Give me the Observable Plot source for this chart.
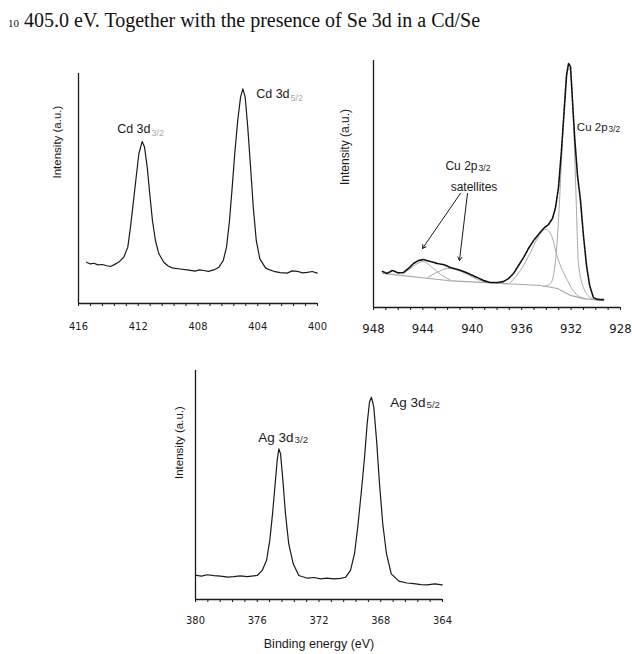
<!DOCTYPE html>
<html>
<head>
<meta charset="utf-8">
<script src="https://cdn.jsdelivr.net/npm/d3@7"></script>
<script src="https://cdn.jsdelivr.net/npm/@observablehq/plot@0.6"></script>
<style>
  html, body { margin: 0; padding: 0; background: #fff; }
  #page { position: relative; width: 632px; height: 654px; overflow: hidden; }
  .panel { position: absolute; }
  #header { position: absolute; left: 8px; top: 9px; font-family: "Liberation Serif", "Times New Roman", serif; font-size: 20px; line-height: 22px; color: #111; white-space: nowrap; }
  #header .ln { font-size: 11px; margin-right: 5px; }
</style>
</head>
<body>
<div id="page">
  <div id="header"><span class="ln">10</span>405.0 eV. Together with the presence of Se 3d in a Cd/Se</div>
  <div class="panel" id="p1" style="left:30px; top:60px;"></div>
  <div class="panel" id="p2" style="left:330px; top:45px;"></div>
  <div class="panel" id="p3" style="left:160px; top:355px;"></div>
</div>
<script>
// ---------------- Data ----------------
// Panel 1: Cd 3d
const cdEnergy = [415.46, 415.2, 414.97, 414.7, 414.41, 414.1, 413.86, 413.6, 413.3, 412.97, 412.7, 412.52, 412.34, 412.14, 411.96, 411.74, 411.58, 411.4, 411.23, 411.05, 410.85, 410.62, 410.29, 410.0, 409.73, 409.2, 408.72, 408.2, 407.9, 407.61, 407.3, 406.94, 406.6, 406.31, 406.09, 405.89, 405.71, 405.54, 405.34, 405.15, 405.0, 404.84, 404.67, 404.48, 404.3, 404.1, 403.86, 403.48, 403.2, 402.92, 402.5, 402.03, 401.7, 401.36, 401.0, 400.69, 400.35, 400.02];
const cdIntensity = [17.96, 17.2, 17.5, 16.8, 16.96, 16.4, 16.1, 16.9, 18.0, 20.1, 24.5, 33.2, 43.3, 54.9, 65.1, 70.4, 68.0, 59.3, 47.7, 36.1, 27.4, 21.6, 17.96, 16.3, 15.5, 15.0, 14.6, 14.1, 14.6, 14.35, 14.0, 14.6, 15.8, 18.7, 24.5, 36.1, 50.6, 65.1, 79.6, 89.7, 93.3, 89.7, 76.7, 59.3, 41.9, 27.4, 19.4, 15.5, 14.6, 14.0, 13.4, 13.2, 14.2, 14.0, 13.3, 13.5, 13.9, 13.2];

// Panel 2: Cu 2p3/2 (measured spectrum + fitted components)
const cuEnergy = [947.27, 946.9, 946.46, 946.0, 945.57, 945.17, 944.76, 944.36, 943.95, 943.38, 942.82, 942.33, 941.77, 941.2, 940.71, 940.15, 939.58, 939.09, 938.53, 937.96, 937.47, 937.07, 936.66, 936.26, 935.85, 935.45, 935.04, 934.64, 934.23, 933.83, 933.51, 933.26, 933.02, 932.78, 932.53, 932.37, 932.21, 932.05, 931.89, 931.7, 931.48, 931.24, 931.0, 930.75, 930.5, 930.19, 929.9, 929.62, 929.38];
const cuIntensity = [14.6, 13.8, 15.0, 14.0, 14.2, 15.8, 17.8, 19.0, 19.4, 18.6, 17.8, 17.4, 16.2, 15.4, 14.6, 13.4, 12.1, 10.9, 10.1, 10.1, 10.5, 11.7, 13.8, 17.0, 20.2, 23.9, 27.1, 29.6, 32.0, 33.6, 36.0, 40.5, 48.6, 63.6, 81.8, 93.9, 98.8, 97.6, 83.8, 68.0, 53.4, 43.3, 29.1, 17.0, 8.9, 4.0, 3.4, 3.2, 3.2];
const cuBgEnergy = [947.27, 942.0, 934.48, 933.1, 932.05, 931.0, 929.38];
const cuBgIntensity = [13.8, 10.9, 8.9, 7.7, 4.9, 3.6, 2.8];
const cuSat1Energy = [945.6, 944.8, 944.0, 943.2, 942.4, 941.8];
const cuSat1Intensity = [13.6, 16.6, 18.6, 16.0, 12.8, 11.2];
const cuSat2Energy = [943.6, 942.8, 942.0, 941.2, 940.4, 939.6, 938.8];
const cuSat2Intensity = [12.2, 14.4, 15.8, 15.2, 13.4, 11.4, 10.2];
const cuShEnergy = [936.91, 936.1, 935.29, 934.64, 934.07, 933.59, 933.1, 932.7, 932.29, 931.89, 931.48, 930.83];
const cuShIntensity = [10.1, 15.0, 22.3, 28.7, 31.6, 29.1, 20.2, 15.0, 10.9, 7.3, 4.9, 3.6];
const cuMainEnergy = [934.23, 933.67, 933.43, 933.26, 933.02, 932.78, 932.53, 932.29, 932.13, 931.97, 931.81, 931.64, 931.4, 931.0, 930.43, 929.78];
const cuMainIntensity = [8.5, 9.7, 13.0, 19.0, 35.2, 59.5, 83.8, 96.0, 96.8, 91.9, 75.7, 51.4, 17.8, 8.1, 4.0, 2.8];

// Panel 3: Ag 3d
const agEnergy = [379.94, 379.6, 379.24, 378.8, 378.38, 377.9, 377.52, 377.1, 376.65, 376.0, 375.68, 375.4, 375.19, 375.01, 374.84, 374.71, 374.6, 374.49, 374.34, 374.17, 373.96, 373.67, 373.31, 372.76, 372.3, 371.9, 371.5, 371.04, 370.6, 370.28, 369.96, 369.7, 369.49, 369.27, 369.05, 368.88, 368.73, 368.6, 368.45, 368.27, 368.08, 367.87, 367.63, 367.32, 366.83, 366.3, 365.86, 365.4, 364.99, 364.5, 364.02];
const agIntensity = [10.5, 10.2, 10.8, 10.4, 10.2, 9.8, 10.0, 10.3, 10.0, 10.5, 12.7, 17.0, 25.8, 37.4, 50.5, 60.7, 65.8, 63.6, 52.0, 37.4, 24.3, 15.6, 10.5, 9.3, 9.6, 9.0, 9.3, 9.0, 9.2, 9.7, 12.7, 20.0, 31.6, 46.2, 62.1, 76.7, 86.2, 88.3, 84.0, 69.4, 50.5, 33.1, 20.0, 11.2, 8.0, 7.2, 6.9, 6.5, 6.4, 6.8, 6.4];

// Tick labels
const cdTicks = [416, 412, 408, 404, 400];
const cuTicks = [948, 944, 940, 936, 932, 928];
const agTicks = [380, 376, 372, 368, 364];

const yLabel = "Intensity (a.u.)";
const xTitle = "Binding energy (eV)";

// ---------------- Helpers ----------------
const zip = (E, I) => E.map((e, i) => ({E: e, I: I[i]}));
const minorTicks = (lo, step, n) => d3.range(0, n + 1).map(i => +(lo + i * step).toFixed(3));
const SANS = "'Liberation Sans', Arial, sans-serif";
const NARROW = "'Liberation Sans Narrow', 'DejaVu Sans Condensed', 'Arial Narrow', sans-serif";
const INK = "#1a1a1a";

function frameMarks(x0, ticks, minor, labelSize, pad, ls) {
  return [
    Plot.ruleY([0], {stroke: INK, strokeWidth: 1.3}),
    Plot.ruleX([x0], {stroke: INK, strokeWidth: 1.3}),
    Plot.axisX({ticks: minor, tickSize: 3, tickFormat: () => "", stroke: INK, label: null}),
    Plot.axisX({ticks, tickSize: 0, tickPadding: pad, fontSize: labelSize, fontFamily: NARROW, fill: INK, label: null, tickFormat: d => String(d), style: {letterSpacing: ls}})
  ];
}

function subLabel(x, y, main, sub, size, subColor, subDy, ls = "0px") {
  return [
    Plot.text([main], {x: () => x, y: () => y, text: d => d, textAnchor: "end", fontSize: size, fontFamily: SANS, fill: INK, style: {letterSpacing: ls}}),
    Plot.text([sub], {x: () => x, y: () => y, text: d => d, textAnchor: "start", fontSize: size * 0.72, fontFamily: SANS, fill: subColor, dx: 1, dy: subDy})
  ];
}

// ---------------- Panel 1: Cd 3d ----------------
const p1 = Plot.plot({
  width: 300, height: 280,
  marginLeft: 48, marginRight: 13, marginTop: 13, marginBottom: 37,
  x: {domain: [416, 400]},
  y: {domain: [0, 100], axis: null},
  style: {fontFamily: SANS, background: "transparent", overflow: "visible"},
  marks: [
    ...frameMarks(416, cdTicks, minorTicks(400, 0.8, 20), 11, 19, "1px"),
    Plot.line(zip(cdEnergy, cdIntensity), {x: "E", y: "I", stroke: INK, strokeWidth: 1.2}),
    Plot.text([yLabel], {frameAnchor: "left", rotate: -90, dx: -21, dy: -10, fontSize: 11.5, fontFamily: SANS, fill: INK, text: d => d, style: {letterSpacing: "1px"}}),
    ...subLabel(411.18, 76, "Cd 3d", "3/2", 12.5, "#aaa", 4),
    ...subLabel(401.87, 90.9, "Cd 3d", "5/2", 12.5, "#aaa", 4)
  ]
});
document.getElementById("p1").appendChild(p1);

// ---------------- Panel 2: Cu 2p ----------------
const GRAY = "#a8a8a8";
const p2 = Plot.plot({
  width: 302, height: 290,
  marginLeft: 43, marginRight: 12, marginTop: 15, marginBottom: 28,
  x: {domain: [948, 928]},
  y: {domain: [0, 100], axis: null},
  style: {fontFamily: SANS, background: "transparent", overflow: "visible"},
  marks: [
    ...frameMarks(948, cuTicks, minorTicks(928, 1, 20), 13, 16, "0px"),
    Plot.line(zip(cuBgEnergy, cuBgIntensity), {x: "E", y: "I", stroke: GRAY, strokeWidth: 1.1}),
    Plot.line(zip(cuSat1Energy, cuSat1Intensity), {x: "E", y: "I", stroke: GRAY, strokeWidth: 1, curve: "monotone-x"}),
    Plot.line(zip(cuSat2Energy, cuSat2Intensity), {x: "E", y: "I", stroke: GRAY, strokeWidth: 1, curve: "monotone-x"}),
    Plot.line(zip(cuShEnergy, cuShIntensity), {x: "E", y: "I", stroke: GRAY, strokeWidth: 1, curve: "monotone-x"}),
    Plot.line(zip(cuMainEnergy, cuMainIntensity), {x: "E", y: "I", stroke: GRAY, strokeWidth: 1, curve: "monotone-x"}),
    Plot.line(zip(cuEnergy, cuIntensity), {x: "E", y: "I", stroke: "#111", strokeWidth: 1.6, strokeDasharray: "3,1"}),
    Plot.arrow([{x1: 940.96, y1: 46.2, x2: 944.03, y2: 23.9}, {x1: 940.39, y1: 46.2, x2: 941.04, y2: 19.0}],
      {x1: "x1", y1: "y1", x2: "x2", y2: "y2", stroke: INK, strokeWidth: 1, headLength: 6, bend: false}),
    Plot.text([yLabel], {frameAnchor: "left", rotate: -90, dx: -28, dy: 1, fontSize: 12, fontFamily: SANS, fill: INK, text: d => d, style: {letterSpacing: "0.5px"}}),
    ...subLabel(939.58, 57.1, "Cu 2p", "3/2", 12, INK, 2),
    Plot.text(["satellites"], {x: () => 939.86, y: () => 48.6, text: d => d, fontSize: 12, fontFamily: SANS, fill: INK}),
    ...subLabel(929.05, 72.9, "Cu 2p", "3/2", 11.5, INK, 2)
  ]
});
document.getElementById("p2").appendChild(p2);

// ---------------- Panel 3: Ag 3d ----------------
const p3 = Plot.plot({
  width: 300, height: 299,
  marginLeft: 35, marginRight: 18, marginTop: 15, marginBottom: 55,
  x: {domain: [380, 364]},
  y: {domain: [0, 100], axis: null},
  style: {fontFamily: SANS, background: "transparent", overflow: "visible"},
  marks: [
    ...frameMarks(380, agTicks, minorTicks(364, 0.8, 20), 11, 17, "1.5px"),
    Plot.line(zip(agEnergy, agIntensity), {x: "E", y: "I", stroke: INK, strokeWidth: 1.2}),
    Plot.text([yLabel], {frameAnchor: "left", rotate: -90, dx: -16, dy: -6, fontSize: 11.5, fontFamily: SANS, fill: INK, text: d => d, style: {letterSpacing: "0.8px"}}),
    Plot.text([xTitle], {frameAnchor: "bottom", dy: 48, fontSize: 12.5, fontFamily: SANS, fill: INK, text: d => d, style: {letterSpacing: "0.3px"}}),
    ...subLabel(373.65, 70.7, "Ag 3d", "3/2", 13.5, "#333", 2, "0.6px"),
    ...subLabel(365.1, 86.0, "Ag 3d", "5/2", 13.5, "#333", 2, "0.6px")
  ]
});
document.getElementById("p3").appendChild(p3);
</script>
</body>
</html>
